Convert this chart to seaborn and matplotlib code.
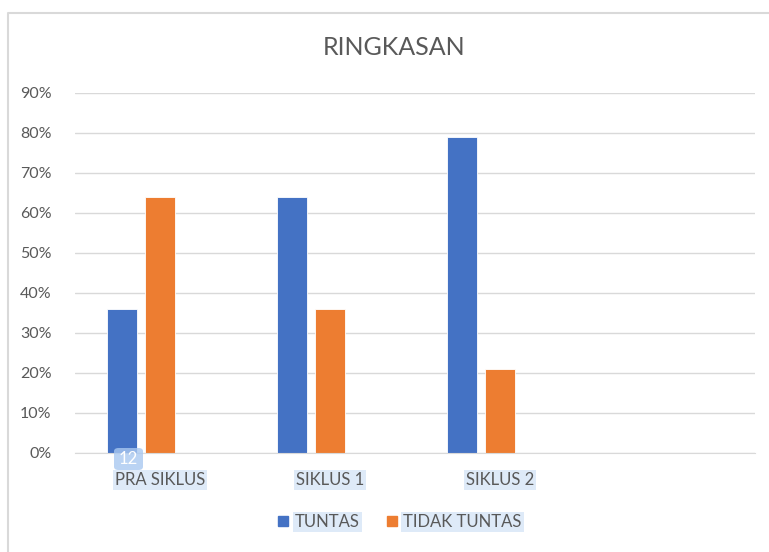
import numpy as np
import pandas as pd
import matplotlib
matplotlib.use('Agg')
import matplotlib.pyplot as plt
from matplotlib.patches import FancyBboxPatch
import seaborn as sns

sns.set_style('white')
plt.rcParams['font.family'] = ['Lato', 'DejaVu Sans']

categories = ['PRA SIKLUS', 'SIKLUS 1', 'SIKLUS 2', '']
tuntas = [36, 64, 79]
tidak_tuntas = [64, 36, 21]
series = ['TUNTAS', 'TIDAK TUNTAS', ' ']
yticks = [0, 10, 20, 30, 40, 50, 60, 70, 80, 90]

df = pd.DataFrame({
    'kategori': categories[:3] * 2,
    'seri': [series[0]] * 3 + [series[1]] * 3,
    'nilai': tuntas + tidak_tuntas,
})

fig = plt.figure(figsize=(7.69, 5.52), dpi=100)
ax = fig.add_axes([75 / 769, 1 - 453 / 552, 680 / 769, 360 / 552])

sns.barplot(data=df, x='kategori', y='nilai', hue='seri', order=categories,
            hue_order=series, palette={'TUNTAS': '#4472C4', 'TIDAK TUNTAS': '#ED7D31', ' ': 'white'},
            width=0.67, gap=0.21, errorbar=None, legend=False, saturation=1,
            edgecolor='white', linewidth=0.6, ax=ax)

ax.set_xlim(-0.5, 3.5)
ax.set_ylim(0, 90)
ax.set_yticks(yticks)
ax.set_yticklabels([f'{v}%' for v in yticks])
ax.yaxis.grid(True, color='#d9d9d9', lw=1)
ax.set_axisbelow(True)
for s in ['top', 'right', 'left']:
    ax.spines[s].set_visible(False)
ax.spines['bottom'].set_color('#d9d9d9')
ax.set_xlabel('')
ax.set_ylabel('')
ax.tick_params(axis='both', length=0, labelcolor='#595959')
ax.tick_params(axis='y', labelsize=11.5, pad=17)
ax.tick_params(axis='x', labelsize=12, pad=14)
for lbl in ax.get_xticklabels():
    lbl.set_bbox(dict(facecolor='#deeaf8', edgecolor='none', pad=1.5))

fig.text(394 / 769, 1 - 48 / 552, 'RINGKASAN', ha='center', va='center',
         fontsize=18, color='#595959')

# legend
handles = [plt.Rectangle((0, 0), 1, 1, color='#4472C4'),
           plt.Rectangle((0, 0), 1, 1, color='#ED7D31')]
leg = fig.legend(handles, series[:2], loc='center', bbox_to_anchor=(400 / 769, 1 - 522 / 552),
                 ncol=2, frameon=False, fontsize=12, handlelength=0.6, handleheight=0.6,
                 handletextpad=0.4, columnspacing=1.6)
for t in leg.get_texts():
    t.set_color('#595959')
    t.set_bbox(dict(facecolor='#deeaf8', edgecolor='none', pad=1.5))

# badge overlay
badge = FancyBboxPatch((114 / 769, 1 - 470 / 552), 29 / 769, 22 / 552,
                       boxstyle='round,pad=0,rounding_size=0.006', transform=fig.transFigure,
                       facecolor='#a9c8f0', edgecolor='none', alpha=0.8, zorder=5)
fig.patches.append(badge)
fig.text(128 / 769, 1 - 459 / 552, '12', ha='center', va='center', fontsize=12,
         color='white', zorder=6)

# chart border
fig.add_artist(plt.Line2D([8 / 769, 8 / 769, 1], [0, 1 - 13 / 552, 1 - 13 / 552],
                          transform=fig.transFigure, color='#d9d9d9', lw=1.5))

fig.savefig('out.png', dpi=100)
